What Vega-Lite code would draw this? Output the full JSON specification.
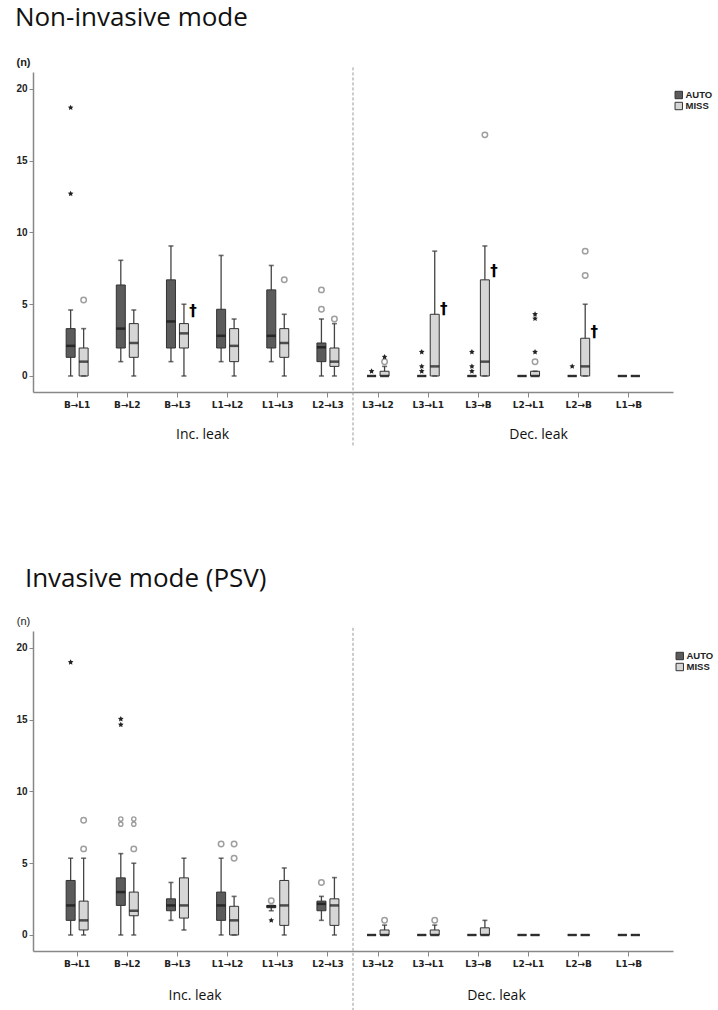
{
  "$schema": "https://vega.github.io/schema/vega-lite/v6.json",
  "padding": {"left": 14, "top": 5, "right": 0, "bottom": 0},
  "background": "white",
  "config": {
    "view": {"stroke": null},
    "font": "Liberation Sans",
    "axis": {"labelColor": "#222", "titleColor": "#222"}
  },
  "bounds": "flush",
  "spacing": 239,
  "resolve": {"scale": {"fill": "independent"}, "legend": {"fill": "independent"}},
  "datasets": {
    "d": [
      {"panel": "NIV", "kind": "box", "cat": "B→L1", "grp": "AUTO", "lo": 0, "q1": 1.3, "med": 2.1, "q3": 3.3, "hi": 4.6},
      {"panel": "NIV", "kind": "box", "cat": "B→L1", "grp": "MISS", "lo": 0, "q1": 0, "med": 1.0, "q3": 1.95, "hi": 3.3},
      {"panel": "NIV", "kind": "box", "cat": "B→L2", "grp": "AUTO", "lo": 1.0, "q1": 1.95, "med": 3.3, "q3": 6.34, "hi": 8.06},
      {"panel": "NIV", "kind": "box", "cat": "B→L2", "grp": "MISS", "lo": 0, "q1": 1.3, "med": 2.3, "q3": 3.65, "hi": 4.6},
      {"panel": "NIV", "kind": "box", "cat": "B→L3", "grp": "AUTO", "lo": 1.0, "q1": 1.95, "med": 3.8, "q3": 6.7, "hi": 9.06},
      {"panel": "NIV", "kind": "box", "cat": "B→L3", "grp": "MISS", "lo": 0, "q1": 1.95, "med": 2.97, "q3": 3.65, "hi": 5.0},
      {"panel": "NIV", "kind": "box", "cat": "L1→L2", "grp": "AUTO", "lo": 1.0, "q1": 1.95, "med": 2.8, "q3": 4.65, "hi": 8.4},
      {"panel": "NIV", "kind": "box", "cat": "L1→L2", "grp": "MISS", "lo": 0, "q1": 1.0, "med": 2.1, "q3": 3.3, "hi": 3.97},
      {"panel": "NIV", "kind": "box", "cat": "L1→L3", "grp": "AUTO", "lo": 1.0, "q1": 1.95, "med": 2.8, "q3": 6.0, "hi": 7.7},
      {"panel": "NIV", "kind": "box", "cat": "L1→L3", "grp": "MISS", "lo": 0, "q1": 1.3, "med": 2.3, "q3": 3.3, "hi": 4.3},
      {"panel": "NIV", "kind": "box", "cat": "L2→L3", "grp": "AUTO", "lo": 0, "q1": 1.0, "med": 2.0, "q3": 2.3, "hi": 3.97},
      {"panel": "NIV", "kind": "box", "cat": "L2→L3", "grp": "MISS", "lo": 0, "q1": 0.67, "med": 1.0, "q3": 1.95, "hi": 3.65},
      {"panel": "NIV", "kind": "box", "cat": "L3→L2", "grp": "AUTO", "lo": 0, "q1": 0, "med": 0, "q3": 0, "hi": 0},
      {"panel": "NIV", "kind": "box", "cat": "L3→L2", "grp": "MISS", "lo": 0, "q1": 0, "med": 0, "q3": 0.33, "hi": 0.67},
      {"panel": "NIV", "kind": "box", "cat": "L3→L1", "grp": "AUTO", "lo": 0, "q1": 0, "med": 0, "q3": 0, "hi": 0},
      {"panel": "NIV", "kind": "box", "cat": "L3→L1", "grp": "MISS", "lo": 0, "q1": 0, "med": 0.67, "q3": 4.3, "hi": 8.7},
      {"panel": "NIV", "kind": "box", "cat": "L3→B", "grp": "AUTO", "lo": 0, "q1": 0, "med": 0, "q3": 0, "hi": 0},
      {"panel": "NIV", "kind": "box", "cat": "L3→B", "grp": "MISS", "lo": 0, "q1": 0, "med": 1.0, "q3": 6.7, "hi": 9.06},
      {"panel": "NIV", "kind": "box", "cat": "L2→L1", "grp": "AUTO", "lo": 0, "q1": 0, "med": 0, "q3": 0, "hi": 0},
      {"panel": "NIV", "kind": "box", "cat": "L2→L1", "grp": "MISS", "lo": 0, "q1": 0, "med": 0, "q3": 0.33, "hi": 0.33},
      {"panel": "NIV", "kind": "box", "cat": "L2→B", "grp": "AUTO", "lo": 0, "q1": 0, "med": 0, "q3": 0, "hi": 0},
      {"panel": "NIV", "kind": "box", "cat": "L2→B", "grp": "MISS", "lo": 0, "q1": 0, "med": 0.67, "q3": 2.63, "hi": 5.0},
      {"panel": "NIV", "kind": "box", "cat": "L1→B", "grp": "AUTO", "lo": 0, "q1": 0, "med": 0, "q3": 0, "hi": 0},
      {"panel": "NIV", "kind": "box", "cat": "L1→B", "grp": "MISS", "lo": 0, "q1": 0, "med": 0, "q3": 0, "hi": 0},
      {"panel": "NIV", "kind": "star", "cat": "B→L1", "grp": "AUTO", "v": 12.7},
      {"panel": "NIV", "kind": "star", "cat": "B→L1", "grp": "AUTO", "v": 18.7},
      {"panel": "NIV", "kind": "circle", "cat": "B→L1", "grp": "MISS", "v": 5.3},
      {"panel": "NIV", "kind": "circle", "cat": "L1→L3", "grp": "MISS", "v": 6.7},
      {"panel": "NIV", "kind": "circle", "cat": "L2→L3", "grp": "AUTO", "v": 6.0},
      {"panel": "NIV", "kind": "circle", "cat": "L2→L3", "grp": "AUTO", "v": 4.65},
      {"panel": "NIV", "kind": "circle", "cat": "L2→L3", "grp": "MISS", "v": 3.97},
      {"panel": "NIV", "kind": "star", "cat": "L3→L2", "grp": "AUTO", "v": 0.33},
      {"panel": "NIV", "kind": "circle", "cat": "L3→L2", "grp": "MISS", "v": 1.0},
      {"panel": "NIV", "kind": "star", "cat": "L3→L2", "grp": "MISS", "v": 1.33},
      {"panel": "NIV", "kind": "star", "cat": "L3→L1", "grp": "AUTO", "v": 1.67},
      {"panel": "NIV", "kind": "star", "cat": "L3→L1", "grp": "AUTO", "v": 0.67},
      {"panel": "NIV", "kind": "star", "cat": "L3→L1", "grp": "AUTO", "v": 0.33},
      {"panel": "NIV", "kind": "star", "cat": "L3→B", "grp": "AUTO", "v": 1.67},
      {"panel": "NIV", "kind": "star", "cat": "L3→B", "grp": "AUTO", "v": 0.67},
      {"panel": "NIV", "kind": "star", "cat": "L3→B", "grp": "AUTO", "v": 0.33},
      {"panel": "NIV", "kind": "circle", "cat": "L3→B", "grp": "MISS", "v": 16.8},
      {"panel": "NIV", "kind": "star", "cat": "L2→L1", "grp": "MISS", "v": 4.3},
      {"panel": "NIV", "kind": "star", "cat": "L2→L1", "grp": "MISS", "v": 4.0},
      {"panel": "NIV", "kind": "star", "cat": "L2→L1", "grp": "MISS", "v": 1.67},
      {"panel": "NIV", "kind": "circle", "cat": "L2→L1", "grp": "MISS", "v": 1.0},
      {"panel": "NIV", "kind": "star", "cat": "L2→B", "grp": "AUTO", "v": 0.67},
      {"panel": "NIV", "kind": "circle", "cat": "L2→B", "grp": "MISS", "v": 8.7},
      {"panel": "NIV", "kind": "circle", "cat": "L2→B", "grp": "MISS", "v": 7.0},
      {"panel": "NIV", "kind": "dagger", "cat": "B→L3", "grp": "MISS", "v": 4.5},
      {"panel": "NIV", "kind": "dagger", "cat": "L3→L1", "grp": "MISS", "v": 4.7},
      {"panel": "NIV", "kind": "dagger", "cat": "L3→B", "grp": "MISS", "v": 7.3},
      {"panel": "NIV", "kind": "dagger", "cat": "L2→B", "grp": "MISS", "v": 3.1},

      {"panel": "PSV", "kind": "box", "cat": "B→L1", "grp": "AUTO", "lo": 0, "q1": 1.02, "med": 2.06, "q3": 3.8, "hi": 5.35},
      {"panel": "PSV", "kind": "box", "cat": "B→L1", "grp": "MISS", "lo": 0, "q1": 0.35, "med": 1.02, "q3": 2.36, "hi": 5.35},
      {"panel": "PSV", "kind": "box", "cat": "B→L2", "grp": "AUTO", "lo": 0, "q1": 2.06, "med": 2.99, "q3": 3.98, "hi": 5.67},
      {"panel": "PSV", "kind": "box", "cat": "B→L2", "grp": "MISS", "lo": 0, "q1": 1.34, "med": 1.69, "q3": 2.99, "hi": 5.0},
      {"panel": "PSV", "kind": "box", "cat": "B→L3", "grp": "AUTO", "lo": 1.02, "q1": 1.69, "med": 2.06, "q3": 2.52, "hi": 3.66},
      {"panel": "PSV", "kind": "box", "cat": "B→L3", "grp": "MISS", "lo": 0.35, "q1": 1.18, "med": 2.06, "q3": 3.98, "hi": 5.35},
      {"panel": "PSV", "kind": "box", "cat": "L1→L2", "grp": "AUTO", "lo": 0, "q1": 1.02, "med": 2.06, "q3": 2.99, "hi": 5.35},
      {"panel": "PSV", "kind": "box", "cat": "L1→L2", "grp": "MISS", "lo": 0, "q1": 0, "med": 1.02, "q3": 2.0, "hi": 2.69},
      {"panel": "PSV", "kind": "box", "cat": "L1→L3", "grp": "AUTO", "lo": 1.69, "q1": 1.9, "med": 2.0, "q3": 2.06, "hi": 2.06},
      {"panel": "PSV", "kind": "box", "cat": "L1→L3", "grp": "MISS", "lo": 0, "q1": 0.67, "med": 2.06, "q3": 3.8, "hi": 4.67},
      {"panel": "PSV", "kind": "box", "cat": "L2→L3", "grp": "AUTO", "lo": 1.02, "q1": 1.69, "med": 2.17, "q3": 2.36, "hi": 2.69},
      {"panel": "PSV", "kind": "box", "cat": "L2→L3", "grp": "MISS", "lo": 0, "q1": 0.67, "med": 2.06, "q3": 2.52, "hi": 4.0},
      {"panel": "PSV", "kind": "box", "cat": "L3→L2", "grp": "AUTO", "lo": 0, "q1": 0, "med": 0, "q3": 0, "hi": 0},
      {"panel": "PSV", "kind": "box", "cat": "L3→L2", "grp": "MISS", "lo": 0, "q1": 0, "med": 0, "q3": 0.35, "hi": 0.69},
      {"panel": "PSV", "kind": "box", "cat": "L3→L1", "grp": "AUTO", "lo": 0, "q1": 0, "med": 0, "q3": 0, "hi": 0},
      {"panel": "PSV", "kind": "box", "cat": "L3→L1", "grp": "MISS", "lo": 0, "q1": 0, "med": 0, "q3": 0.35, "hi": 0.69},
      {"panel": "PSV", "kind": "box", "cat": "L3→B", "grp": "AUTO", "lo": 0, "q1": 0, "med": 0, "q3": 0, "hi": 0},
      {"panel": "PSV", "kind": "box", "cat": "L3→B", "grp": "MISS", "lo": 0, "q1": 0, "med": 0, "q3": 0.5, "hi": 1.02},
      {"panel": "PSV", "kind": "box", "cat": "L2→L1", "grp": "AUTO", "lo": 0, "q1": 0, "med": 0, "q3": 0, "hi": 0},
      {"panel": "PSV", "kind": "box", "cat": "L2→L1", "grp": "MISS", "lo": 0, "q1": 0, "med": 0, "q3": 0, "hi": 0},
      {"panel": "PSV", "kind": "box", "cat": "L2→B", "grp": "AUTO", "lo": 0, "q1": 0, "med": 0, "q3": 0, "hi": 0},
      {"panel": "PSV", "kind": "box", "cat": "L2→B", "grp": "MISS", "lo": 0, "q1": 0, "med": 0, "q3": 0, "hi": 0},
      {"panel": "PSV", "kind": "box", "cat": "L1→B", "grp": "AUTO", "lo": 0, "q1": 0, "med": 0, "q3": 0, "hi": 0},
      {"panel": "PSV", "kind": "box", "cat": "L1→B", "grp": "MISS", "lo": 0, "q1": 0, "med": 0, "q3": 0, "hi": 0},
      {"panel": "PSV", "kind": "star", "cat": "B→L1", "grp": "AUTO", "v": 19.0},
      {"panel": "PSV", "kind": "circle", "cat": "B→L1", "grp": "MISS", "v": 8.0},
      {"panel": "PSV", "kind": "circle", "cat": "B→L1", "grp": "MISS", "v": 6.0},
      {"panel": "PSV", "kind": "star", "cat": "B→L2", "grp": "AUTO", "v": 15.05},
      {"panel": "PSV", "kind": "star", "cat": "B→L2", "grp": "AUTO", "v": 14.65},
      {"panel": "PSV", "kind": "small", "cat": "B→L2", "grp": "AUTO", "v": 8.08},
      {"panel": "PSV", "kind": "small", "cat": "B→L2", "grp": "AUTO", "v": 7.72},
      {"panel": "PSV", "kind": "small", "cat": "B→L2", "grp": "MISS", "v": 8.08},
      {"panel": "PSV", "kind": "small", "cat": "B→L2", "grp": "MISS", "v": 7.72},
      {"panel": "PSV", "kind": "circle", "cat": "B→L2", "grp": "MISS", "v": 6.0},
      {"panel": "PSV", "kind": "circle", "cat": "L1→L2", "grp": "AUTO", "v": 6.34},
      {"panel": "PSV", "kind": "circle", "cat": "L1→L2", "grp": "MISS", "v": 6.34},
      {"panel": "PSV", "kind": "circle", "cat": "L1→L2", "grp": "MISS", "v": 5.35},
      {"panel": "PSV", "kind": "circle", "cat": "L1→L3", "grp": "AUTO", "v": 2.38},
      {"panel": "PSV", "kind": "star", "cat": "L1→L3", "grp": "AUTO", "v": 1.02},
      {"panel": "PSV", "kind": "circle", "cat": "L2→L3", "grp": "AUTO", "v": 3.66},
      {"panel": "PSV", "kind": "circle", "cat": "L3→L2", "grp": "MISS", "v": 1.02},
      {"panel": "PSV", "kind": "circle", "cat": "L3→L1", "grp": "MISS", "v": 1.02}
    ]
  },
  "vconcat": [
    {
      "width": 640,
      "height": 320,
      "title": {"text": "Non-invasive mode", "anchor": "start", "font": "Open Sans", "fontSize": 26, "fontWeight": "normal", "color": "#111", "dx": -1, "offset": 25},
      "data": {"name": "d"},
      "transform": [{"filter": "datum.panel === 'NIV'"}],
      "encoding": {
        "x": {"field": "cat", "type": "nominal", "sort": null,
          "scale": {"domain": ["B→L1", "B→L2", "B→L3", "L1→L2", "L1→L3", "L2→L3", "L3→L2", "L3→L1", "L3→B", "L2→L1", "L2→B", "L1→B"], "paddingInner": 0, "paddingOuter": 0.38},
          "axis": {"title": null, "labelAngle": 0, "labelFont": "DejaVu Sans", "labelFontWeight": "bold", "labelFontSize": 9, "tickSize": 5, "tickColor": "#888", "domainColor": "#888", "domainWidth": 1.5, "labelPadding": 3}},
        "xOffset": {"field": "grp", "type": "nominal", "scale": {"domain": ["AUTO", "MISS"], "paddingInner": 0, "paddingOuter": 0.93}}
      },
      "layer": [
        {
          "data": {"values": [{}]},
          "mark": {"type": "rule", "strokeDash": [3, 2], "color": "#999", "strokeWidth": 1},
          "encoding": {
            "x": {"datum": "L3→L2", "type": "nominal", "bandPosition": 0},
            "xOffset": null,
            "y": {"datum": 21.5, "type": "quantitative"},
            "y2": {"datum": -4.9}
          }
        },
        {
          "transform": [{"filter": "datum.kind === 'box'"}],
          "mark": {"type": "rule", "color": "#444", "strokeWidth": 1.3},
          "encoding": {
            "y": {"field": "lo", "type": "quantitative",
              "scale": {"domain": [-1.115, 21.18], "nice": false, "zero": false},
              "axis": {"values": [0, 5, 10, 15, 20], "grid": false, "title": "(n)", "titleAngle": 0, "titleX": -10, "titleY": -5, "titleAlign": "center", "titleBaseline": "bottom", "titleFontSize": 11, "titleFontWeight": "bold", "labelFontSize": 10, "labelFontWeight": "bold", "tickSize": 4, "tickColor": "#888", "domainColor": "#888", "domainWidth": 1.5, "labelPadding": 2}},
            "y2": {"field": "hi"}
          }
        },
        {
          "transform": [{"filter": "datum.kind === 'box'"}],
          "mark": {"type": "bar", "width": 9, "stroke": "#333", "strokeWidth": 1},
          "encoding": {
            "y": {"field": "q1", "type": "quantitative"},
            "y2": {"field": "q3"},
            "fill": {"field": "grp", "type": "nominal",
              "scale": {"domain": ["AUTO", "MISS"], "range": ["#5b5b5b", "#d6d6d6"]},
              "legend": {"orient": "none", "legendX": 641, "legendY": 17.5, "title": null, "symbolType": "square", "symbolSize": 55, "symbolStrokeColor": "#333", "symbolStrokeWidth": 1, "labelFontSize": 9.5, "labelFontWeight": "bold", "labelColor": "#222", "rowPadding": 0, "clipHeight": 11, "labelOffset": 2}}
          }
        },
        {
          "transform": [{"filter": "datum.kind === 'box'"}],
          "mark": {"type": "tick", "color": "#111", "thickness": 2.5, "size": 9},
          "encoding": {"y": {"field": "med", "type": "quantitative"}}
        },
        {
          "transform": [{"filter": "datum.kind === 'box'"}],
          "mark": {"type": "tick", "color": "#333", "thickness": 1.6, "size": 5},
          "encoding": {"y": {"field": "lo", "type": "quantitative"}}
        },
        {
          "transform": [{"filter": "datum.kind === 'box'"}],
          "mark": {"type": "tick", "color": "#333", "thickness": 1.6, "size": 5},
          "encoding": {"y": {"field": "hi", "type": "quantitative"}}
        },
        {
          "transform": [{"filter": "datum.kind === 'circle'"}],
          "mark": {"type": "point", "shape": "circle", "filled": false, "stroke": "#777", "strokeWidth": 1.5, "size": 30},
          "encoding": {"y": {"field": "v", "type": "quantitative"}}
        },
        {
          "transform": [{"filter": "datum.kind === 'star'"}],
          "mark": {"type": "point", "shape": "M0,-1L0.29,-0.4L0.95,-0.31L0.47,0.15L0.59,0.81L0,0.5L-0.59,0.81L-0.47,0.15L-0.95,-0.31L-0.29,-0.4Z", "filled": true, "color": "#222", "size": 35, "opacity": 1},
          "encoding": {"y": {"field": "v", "type": "quantitative"}}
        },
        {
          "transform": [{"filter": "datum.kind === 'dagger'"}],
          "mark": {"type": "text", "text": "†", "font": "DejaVu Sans", "fontSize": 15, "fontWeight": "bold", "fill": "#000", "dx": 9, "baseline": "middle"},
          "encoding": {"y": {"field": "v", "type": "quantitative"}}
        },
        {
          "data": {"values": [{}]},
          "mark": {"type": "text", "text": "Inc. leak", "font": "Open Sans", "fontSize": 14, "color": "#111", "baseline": "middle"},
          "encoding": {"x": {"datum": "B→L3", "type": "nominal", "bandPosition": 1}, "xOffset": null, "y": {"datum": -4.1, "type": "quantitative"}}
        },
        {
          "data": {"values": [{}]},
          "mark": {"type": "text", "text": "Dec. leak", "font": "Open Sans", "fontSize": 14, "color": "#111", "baseline": "middle"},
          "encoding": {"x": {"datum": "L2→L1", "type": "nominal", "bandPosition": 0.7}, "xOffset": null, "y": {"datum": -4.1, "type": "quantitative"}}
        }
      ]
    },
    {
      "width": 640,
      "height": 320,
      "title": {"text": "Invasive mode (PSV)", "anchor": "start", "font": "Open Sans", "fontSize": 26, "fontWeight": "normal", "color": "#111", "dx": 9, "offset": 23},
      "data": {"name": "d"},
      "transform": [{"filter": "datum.panel === 'PSV'"}],
      "encoding": {
        "x": {"field": "cat", "type": "nominal", "sort": null,
          "scale": {"domain": ["B→L1", "B→L2", "B→L3", "L1→L2", "L1→L3", "L2→L3", "L3→L2", "L3→L1", "L3→B", "L2→L1", "L2→B", "L1→B"], "paddingInner": 0, "paddingOuter": 0.38},
          "axis": {"title": null, "labelAngle": 0, "labelFont": "DejaVu Sans", "labelFontWeight": "bold", "labelFontSize": 9, "tickSize": 5, "tickColor": "#888", "domainColor": "#888", "domainWidth": 1.5, "labelPadding": 3}},
        "xOffset": {"field": "grp", "type": "nominal", "scale": {"domain": ["AUTO", "MISS"], "paddingInner": 0, "paddingOuter": 0.93}}
      },
      "layer": [
        {
          "data": {"values": [{}]},
          "mark": {"type": "rule", "strokeDash": [3, 2], "color": "#999", "strokeWidth": 1},
          "encoding": {
            "x": {"datum": "L3→L2", "type": "nominal", "bandPosition": 0},
            "xOffset": null,
            "y": {"datum": 21.4, "type": "quantitative"},
            "y2": {"datum": -6.5}
          }
        },
        {
          "transform": [{"filter": "datum.kind === 'box'"}],
          "mark": {"type": "rule", "color": "#444", "strokeWidth": 1.3},
          "encoding": {
            "y": {"field": "lo", "type": "quantitative",
              "scale": {"domain": [-1.115, 21.18], "nice": false, "zero": false},
              "axis": {"values": [0, 5, 10, 15, 20], "grid": false, "title": "(n)", "titleAngle": 0, "titleX": -10, "titleY": -5, "titleAlign": "center", "titleBaseline": "bottom", "titleFontSize": 11, "titleFontWeight": "normal", "labelFontSize": 10, "labelFontWeight": "bold", "tickSize": 4, "tickColor": "#888", "domainColor": "#888", "domainWidth": 1.5, "labelPadding": 2}},
            "y2": {"field": "hi"}
          }
        },
        {
          "transform": [{"filter": "datum.kind === 'box'"}],
          "mark": {"type": "bar", "width": 9, "stroke": "#333", "strokeWidth": 1},
          "encoding": {
            "y": {"field": "q1", "type": "quantitative"},
            "y2": {"field": "q3"},
            "fill": {"field": "grp", "type": "nominal",
              "scale": {"domain": ["AUTO", "MISS"], "range": ["#5b5b5b", "#d6d6d6"]},
              "legend": {"orient": "none", "legendX": 642, "legendY": 19.5, "title": null, "symbolType": "square", "symbolSize": 55, "symbolStrokeColor": "#333", "symbolStrokeWidth": 1, "labelFontSize": 9.5, "labelFontWeight": "bold", "labelColor": "#222", "rowPadding": 0, "clipHeight": 11, "labelOffset": 2}}
          }
        },
        {
          "transform": [{"filter": "datum.kind === 'box'"}],
          "mark": {"type": "tick", "color": "#111", "thickness": 2.5, "size": 9},
          "encoding": {"y": {"field": "med", "type": "quantitative"}}
        },
        {
          "transform": [{"filter": "datum.kind === 'box'"}],
          "mark": {"type": "tick", "color": "#333", "thickness": 1.6, "size": 5},
          "encoding": {"y": {"field": "lo", "type": "quantitative"}}
        },
        {
          "transform": [{"filter": "datum.kind === 'box'"}],
          "mark": {"type": "tick", "color": "#333", "thickness": 1.6, "size": 5},
          "encoding": {"y": {"field": "hi", "type": "quantitative"}}
        },
        {
          "transform": [{"filter": "datum.kind === 'circle'"}],
          "mark": {"type": "point", "shape": "circle", "filled": false, "stroke": "#777", "strokeWidth": 1.5, "size": 30},
          "encoding": {"y": {"field": "v", "type": "quantitative"}}
        },
        {
          "transform": [{"filter": "datum.kind === 'small'"}],
          "mark": {"type": "point", "shape": "circle", "filled": false, "stroke": "#777", "strokeWidth": 1.4, "size": 18},
          "encoding": {"y": {"field": "v", "type": "quantitative"}}
        },
        {
          "transform": [{"filter": "datum.kind === 'star'"}],
          "mark": {"type": "point", "shape": "M0,-1L0.29,-0.4L0.95,-0.31L0.47,0.15L0.59,0.81L0,0.5L-0.59,0.81L-0.47,0.15L-0.95,-0.31L-0.29,-0.4Z", "filled": true, "color": "#222", "size": 35, "opacity": 1},
          "encoding": {"y": {"field": "v", "type": "quantitative"}}
        },
        {
          "data": {"values": [{}]},
          "mark": {"type": "text", "text": "Inc. leak", "font": "Open Sans", "fontSize": 14, "color": "#111", "baseline": "middle"},
          "encoding": {"x": {"datum": "B→L3", "type": "nominal", "bandPosition": 0.85}, "xOffset": null, "y": {"datum": -4.24, "type": "quantitative"}}
        },
        {
          "data": {"values": [{}]},
          "mark": {"type": "text", "text": "Dec. leak", "font": "Open Sans", "fontSize": 14, "color": "#111", "baseline": "middle"},
          "encoding": {"x": {"datum": "L3→B", "type": "nominal", "bandPosition": 0.86}, "xOffset": null, "y": {"datum": -4.24, "type": "quantitative"}}
        }
      ]
    }
  ]
}
